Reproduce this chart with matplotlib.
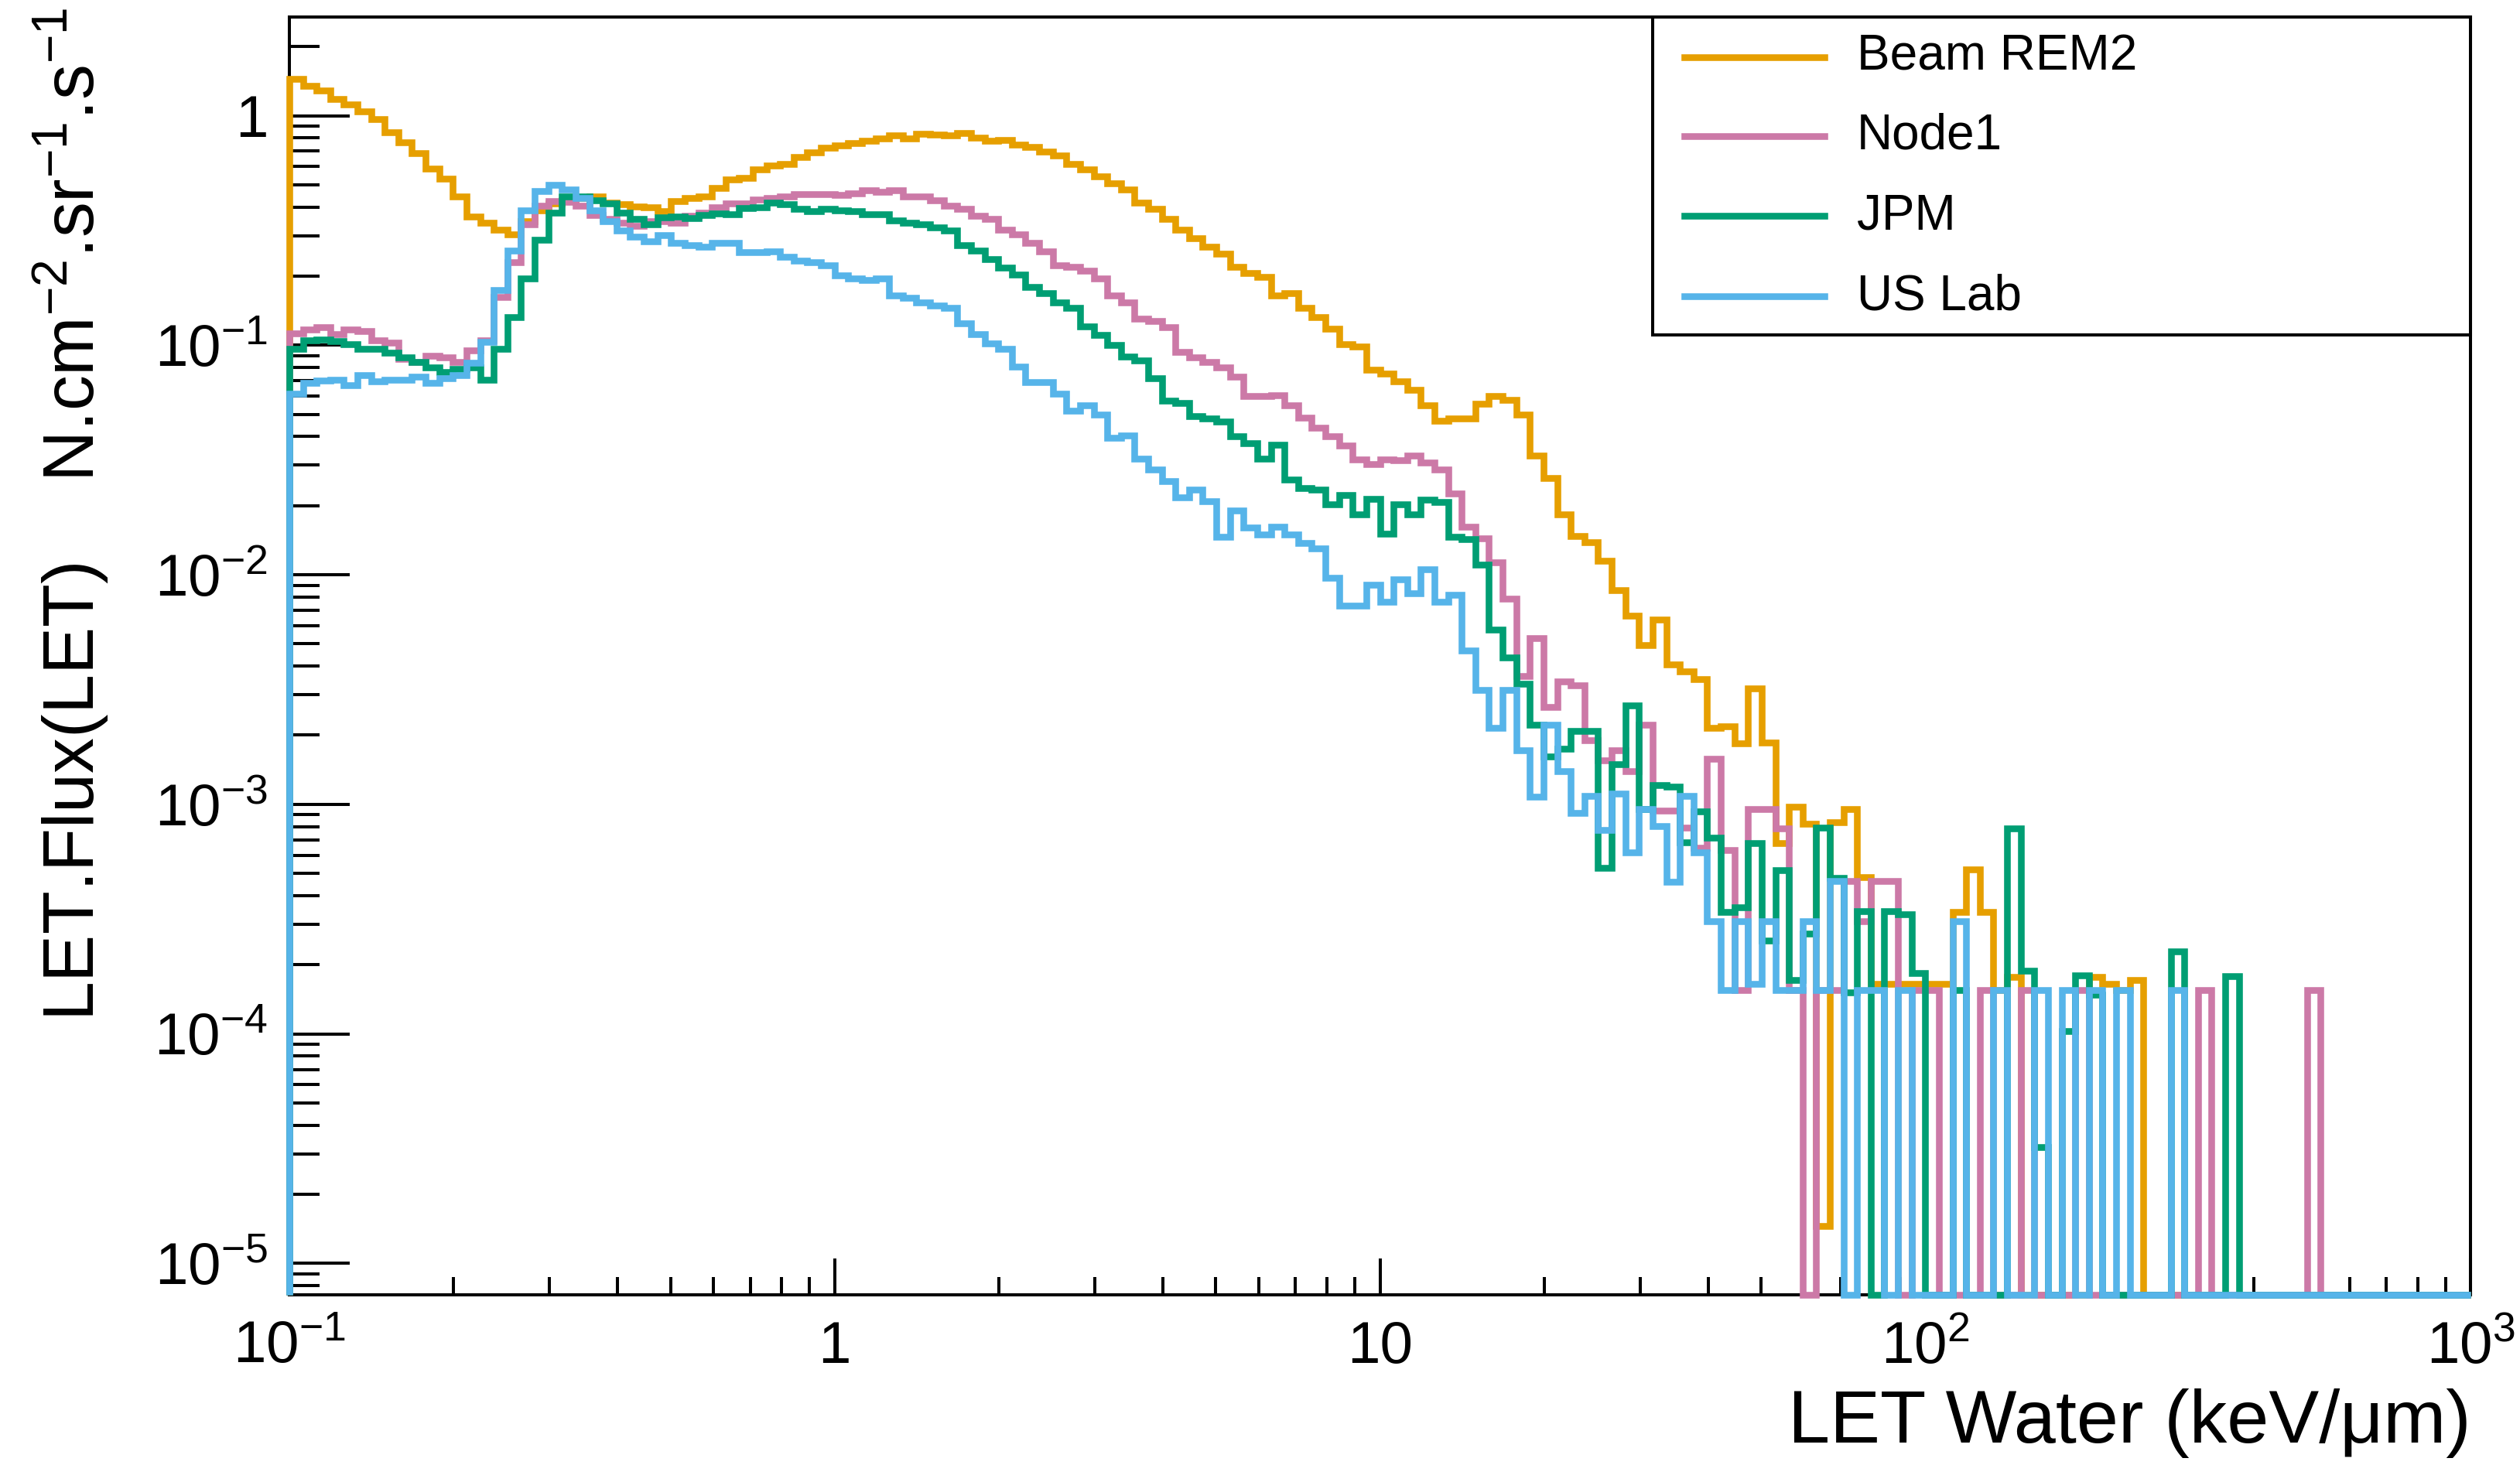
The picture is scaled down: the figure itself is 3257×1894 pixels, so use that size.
import numpy as np
import matplotlib
matplotlib.use("Agg")
import matplotlib.pyplot as plt
from matplotlib.patches import Rectangle
from matplotlib.lines import Line2D
from matplotlib.ticker import LogLocator, NullFormatter

plt.rcParams['font.family'] = ['Liberation Sans', 'DejaVu Sans']
plt.rcParams['mathtext.fontset'] = 'custom'
plt.rcParams['mathtext.rm'] = 'Liberation Sans'
plt.rcParams['mathtext.it'] = 'Liberation Sans:italic'
plt.rcParams['mathtext.bf'] = 'Liberation Sans:bold'

# 40 log bins per decade between 0.1 and 1000 keV/um
edges = np.logspace(-1, 3, 161)

labels = ["Beam REM2", "Node1", "JPM", "US Lab"]
colors = ["#E69F00", "#CC79A7", "#009E73", "#56B4E9"]

beam_rem2 = [
    1.45, 1.35, 1.29, 1.18, 1.12, 1.04, 0.966, 0.847, 0.764, 0.688,
    0.589, 0.531, 0.443, 0.362, 0.342, 0.319, 0.303, 0.348, 0.386, 0.414,
    0.428, 0.436, 0.443, 0.417, 0.411, 0.402, 0.400, 0.383, 0.425, 0.436,
    0.446, 0.483, 0.527, 0.536, 0.581, 0.605, 0.616, 0.660, 0.691, 0.725,
    0.740, 0.758, 0.777, 0.793, 0.821, 0.798, 0.832, 0.830, 0.821, 0.840,
    0.804, 0.777, 0.785, 0.750, 0.732, 0.695, 0.671, 0.616, 0.585, 0.542,
    0.509, 0.475, 0.417, 0.393, 0.354, 0.319, 0.292, 0.268, 0.250, 0.220,
    0.207, 0.199, 0.165, 0.169, 0.146, 0.132, 0.118, 0.101, 0.0989, 0.0779,
    0.0753, 0.0695, 0.0638, 0.0546, 0.0470, 0.0480, 0.0480, 0.0555, 0.0599, 0.0578,
    0.0500, 0.0330, 0.0264, 0.0183, 0.0147, 0.0139, 0.0115, 0.00859, 0.00662, 0.00493,
    0.00640, 0.00408, 0.00380, 0.00352, 0.00215, 0.00219, 0.00184, 0.00320, 0.00186, 0.000676,
    0.000977, 0.000824, 1.45e-5, 0.000837, 0.000950, 0.000480, 1.65e-4, 1.65e-4, 1.65e-4, 1.65e-4,
    1.65e-4, 1.65e-4, 3.4e-4, 5.2e-4, 3.4e-4, 1.55e-4, 1.77e-4, 0, 0, 0,
    0, 0, 1.77e-4, 1.65e-4, 1.55e-4, 1.72e-4, 0, 0, 0, 0,
    0, 0, 0, 0, 0, 0, 0, 0, 0, 0,
    0, 0, 0, 0, 0, 0, 0, 0, 0, 0,
]

node1 = [
    0.113, 0.117, 0.120, 0.112, 0.117, 0.115, 0.105, 0.1025, 0.0871, 0.0847,
    0.0902, 0.0886, 0.0847, 0.0949, 0.105, 0.162, 0.230, 0.336, 0.406, 0.425,
    0.421, 0.406, 0.370, 0.354, 0.342, 0.330, 0.348, 0.348, 0.342, 0.366,
    0.379, 0.400, 0.414, 0.414, 0.431, 0.439, 0.443, 0.454, 0.455, 0.454,
    0.451, 0.459, 0.472, 0.465, 0.472, 0.446, 0.446, 0.428, 0.406, 0.393,
    0.366, 0.354, 0.319, 0.303, 0.278, 0.257, 0.223, 0.220, 0.211, 0.196,
    0.165, 0.153, 0.130, 0.127, 0.120, 0.0933, 0.0886, 0.0847, 0.0798, 0.0727,
    0.0599, 0.0599, 0.0605, 0.0546, 0.0483, 0.0436, 0.0400, 0.0366, 0.0319, 0.0303,
    0.0319, 0.0316, 0.0330, 0.0308, 0.0288, 0.0226, 0.0162, 0.0144, 0.0113, 0.00787,
    0.00361, 0.00528, 0.00265, 0.00343, 0.00331, 0.00190, 0.00155, 0.00172, 0.00139, 0.00222,
    0.000936, 0.000936, 0.000794, 0.000646, 0.00158, 0.000631, 1.55e-4, 0.00095, 0.00095, 0.000783,
    1.55e-4, 0, 1.55e-4, 1.55e-4, 4.65e-4, 3.1e-4, 4.65e-4, 4.65e-4, 0, 1.55e-4,
    1.55e-4, 0, 0, 0, 1.55e-4, 0, 0, 1.55e-4, 0, 0,
    0, 1.55e-4, 0, 0, 0, 0, 0, 0, 0, 0,
    1.55e-4, 0, 0, 0, 0, 0, 0, 0, 1.55e-4, 0,
    0, 0, 0, 0, 0, 0, 0, 0, 0, 0,
]

jpm = [
    0.0966, 0.105, 0.106, 0.104, 0.1007, 0.0966, 0.0966, 0.0927, 0.0886, 0.0847,
    0.0798, 0.0763, 0.0785, 0.0798, 0.0708, 0.0966, 0.133, 0.196, 0.288, 0.379,
    0.443, 0.446, 0.428, 0.414, 0.379, 0.354, 0.336, 0.360, 0.363, 0.357,
    0.370, 0.375, 0.373, 0.395, 0.400, 0.417, 0.411, 0.393, 0.383, 0.393,
    0.388, 0.383, 0.373, 0.373, 0.350, 0.342, 0.336, 0.327, 0.316, 0.272,
    0.259, 0.238, 0.218, 0.203, 0.180, 0.168, 0.154, 0.146, 0.121, 0.111,
    0.100, 0.0895, 0.0855, 0.0720, 0.0574, 0.0559, 0.0492, 0.0480, 0.0464, 0.0400,
    0.0373, 0.0321, 0.0369, 0.0259, 0.0239, 0.0235, 0.0202, 0.0222, 0.0183, 0.0214,
    0.0151, 0.0202, 0.0183, 0.0213, 0.0207, 0.0146, 0.0143, 0.0111, 0.00577, 0.00437,
    0.00334, 0.00222, 0.00161, 0.00175, 0.00208, 0.00208, 0.000528, 0.00149, 0.00269, 0.000955,
    0.00121, 0.00119, 0.000685, 0.000933, 0.000715, 0.000339, 0.000355, 0.000679, 0.000254, 0.000518,
    0.000172, 0.000274, 0.000793, 0.000479, 0.000151, 0.000342, 0, 0.000342, 0.000332, 0.000184,
    0, 0, 0.000155, 0, 0, 0, 0.000785, 0.000188, 3.2e-5, 0,
    0.000103, 0.000180, 0.000148, 0, 0, 0, 0, 0, 0.000228, 0,
    0, 0, 0.000178, 0, 0, 0, 0, 0, 0, 0,
    0, 0, 0, 0, 0, 0, 0, 0, 0, 0,
]

us_lab = [
    0.0616, 0.0683, 0.0700, 0.0708, 0.0672, 0.0738, 0.0695, 0.0708, 0.0708, 0.0727,
    0.0683, 0.0720, 0.0738, 0.0841, 0.1035, 0.174, 0.259, 0.386, 0.470, 0.500,
    0.475, 0.436, 0.386, 0.348, 0.316, 0.298, 0.283, 0.301, 0.278, 0.273,
    0.268, 0.280, 0.278, 0.255, 0.255, 0.257, 0.242, 0.234, 0.230, 0.222,
    0.202, 0.195, 0.192, 0.195, 0.165, 0.161, 0.154, 0.149, 0.145, 0.125,
    0.112, 0.102, 0.0966, 0.0807, 0.0688, 0.0688, 0.0616, 0.0518, 0.0546, 0.0500,
    0.0395, 0.0404, 0.0321, 0.0288, 0.0256, 0.0218, 0.0235, 0.0209, 0.0146, 0.0190,
    0.0161, 0.0150, 0.0162, 0.0150, 0.0138, 0.0130, 0.00968, 0.00735, 0.00735, 0.00904,
    0.00760, 0.00952, 0.00830, 0.0106, 0.00760, 0.00815, 0.00469, 0.00315, 0.00215, 0.00315,
    0.00172, 0.00108, 0.00222, 0.00139, 0.00092, 0.00109, 0.000774, 0.00111, 0.000618, 0.000955,
    0.000802, 0.000460, 0.00109, 0.000617, 3.1e-4, 1.55e-4, 3.1e-4, 1.65e-4, 3.1e-4, 1.55e-4,
    1.55e-4, 3.1e-4, 1.55e-4, 4.65e-4, 0, 1.55e-4, 1.55e-4, 0, 1.55e-4, 0,
    0, 0, 3.1e-4, 0, 0, 1.55e-4, 0, 0, 1.55e-4, 0,
    1.55e-4, 0, 1.55e-4, 0, 1.55e-4, 0, 0, 0, 1.55e-4, 0,
    0, 0, 0, 0, 0, 0, 0, 0, 0, 0,
    0, 0, 0, 0, 0, 0, 0, 0, 0, 0,
]

series = [beam_rem2, node1, jpm, us_lab]

y_min, y_max = 7.3e-6, 2.69
lw = 3.1

fig = plt.figure(figsize=(16.285, 9.47), dpi=200)
ax = fig.add_axes([0.1148, 0.1162, 0.8656, 0.8722])
ax.set_xscale('log')
ax.set_yscale('log')
ax.set_xlim(0.1, 1000)
ax.set_ylim(y_min, y_max)

# empty bins sit on the bottom of the frame
for vals, col in zip(series, colors):
    v = np.asarray(vals, dtype=float)
    v = np.where(v > 0, v, y_min)
    ax.stairs(v, edges, baseline=y_min, color=col, lw=lw, zorder=3,
              clip_on=False)

ax.set_xticks([0.1, 1, 10, 100, 1000],
              ['10$^{-1}$', '1', '10', '10$^{2}$', '10$^{3}$'])
ax.set_yticks([1e-5, 1e-4, 1e-3, 1e-2, 1e-1, 1],
              ['10$^{-5}$', '10$^{-4}$', '10$^{-3}$', '10$^{-2}$', '10$^{-1}$', '1'])
for axis in (ax.xaxis, ax.yaxis):
    axis.set_minor_locator(LogLocator(base=10, subs=np.arange(2, 10), numticks=30))
    axis.set_minor_formatter(NullFormatter())

ax.tick_params(which='both', direction='in', top=False, right=False,
               width=1.45, labelsize=27.5)
ax.tick_params(axis='x', which='major', length=17, pad=12)
ax.tick_params(axis='x', which='minor', length=8.3)
ax.tick_params(axis='y', which='major', length=28, pad=10)
ax.tick_params(axis='y', which='minor', length=14)
for sp in ax.spines.values():
    sp.set_linewidth(1.45)

fig.text(0.9804, 0.0153, 'LET Water (keV/μm)', ha='right', va='baseline',
         fontsize=35)
fig.text(0.028, 0.9947,
         'LET.Flux(LET)    N.cm$^{-2}$.sr$^{-1}$.s$^{-1}$',
         rotation=90, ha='center', va='top', fontsize=33)

# legend box in the top right corner
ax.add_patch(Rectangle((0.625, 0.751), 0.375, 0.249, transform=ax.transAxes,
                       facecolor='white', edgecolor='black', lw=1.45,
                       zorder=5, clip_on=False))
rows = [0.9686, 0.9070, 0.8442, 0.7814]
for lab, col, yy in zip(labels, colors, rows):
    ax.add_line(Line2D([0.6396, 0.7038], [yy, yy], transform=ax.transAxes,
                       color=col, lw=lw, zorder=6))
    ax.text(0.7185, yy, lab, transform=ax.transAxes, ha='left',
            va='center', fontsize=23, zorder=6)

fig.savefig('out.png', dpi=200)
